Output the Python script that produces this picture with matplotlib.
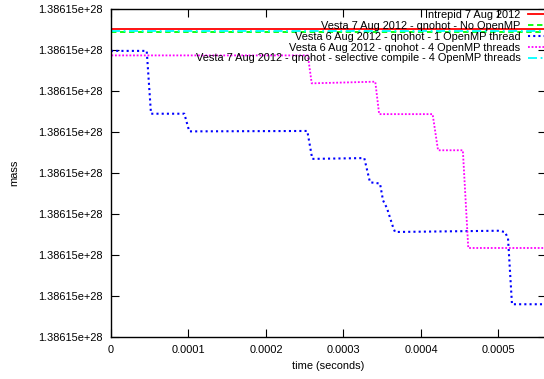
import numpy as np
import matplotlib
matplotlib.use("Agg")
import matplotlib.pyplot as plt
from matplotlib.ticker import FixedLocator, FuncFormatter

plt.rcParams['font.family'] = ['Liberation Sans', 'DejaVu Sans']
plt.rcParams['font.size'] = 7.9

# mass shown as offsets above 1.38615e+28 (one unit = one tick step)
mass_base_label = "1.38615e+28"

# flat runs
intrepid_t = [0.0, 5.62e-4]
intrepid_m = [7.51, 7.51]
vesta7_noomp_t = [0.0, 5.62e-4]
vesta7_noomp_m = [7.43, 7.43]
vesta7_sel_t = [0.0, 5.62e-4]
vesta7_sel_m = [7.46, 7.46]

# Vesta 6 Aug - 1 OpenMP thread
vesta6_1_t = np.array([0.0, 0.461, 0.516, 0.946, 1.010, 2.533, 2.597, 3.268, 3.342,
                       3.471, 3.510, 3.561, 3.639, 3.665, 4.994, 5.084, 5.123, 5.174, 5.62]) * 1e-4
vesta6_1_m = [6.97, 6.97, 5.44, 5.44, 5.01, 5.02, 4.34, 4.36, 3.77,
              3.74, 3.33, 3.14, 2.68, 2.56, 2.59, 2.56, 2.40, 0.80, 0.80]

# Vesta 6 Aug - 4 OpenMP threads
vesta6_4_t = np.array([0.0, 0.013, 2.54, 2.59, 3.41, 3.46, 4.15, 4.22, 4.54, 4.61, 5.62]) * 1e-4
vesta6_4_m = [6.96, 6.86, 6.86, 6.18, 6.22, 5.43, 5.43, 4.55, 4.55, 2.17, 2.17]

labels = ["Intrepid 7 Aug 2012",
          "Vesta 7 Aug 2012 - qnohot - No OpenMP",
          "Vesta 6 Aug 2012 - qnohot - 1 OpenMP thread",
          "Vesta 6 Aug 2012 - qnohot - 4 OpenMP threads",
          "Vesta 7 Aug 2012 - qnohot - selective compile - 4 OpenMP threads"]

x_ticks = [0, 1e-4, 2e-4, 3e-4, 4e-4, 5e-4]
x_tick_labels = ["0", "0.0001", "0.0002", "0.0003", "0.0004", "0.0005"]

W, H = 544, 379
fig = plt.figure(figsize=(W / 100, H / 100), dpi=100)
ax = fig.add_axes([111 / W, 1 - 337.1 / H, (546 - 111) / W, (337.1 - 8.6) / H])

ax.plot(intrepid_t, intrepid_m, color='#ff0000', lw=1.3, label=labels[0])
ax.plot(vesta7_noomp_t, vesta7_noomp_m, color='#00ff00', lw=1.3,
        linestyle=(0, (3, 2)), label=labels[1])
ax.plot(vesta6_1_t, vesta6_1_m, color='#0000ff', lw=1.5,
        linestyle=(0, (1, 1.5)), label=labels[2])
ax.plot(vesta6_4_t, vesta6_4_m, color='#ff00ff', lw=1.3,
        linestyle=(0, (1, 1)), label=labels[3])
ax.plot(vesta7_sel_t, vesta7_sel_m, color='#00ffff', lw=1.3,
        linestyle=(0, (5, 2, 1, 2)), label=labels[4])

ax.set_xlim(0, 5.613e-4)
ax.set_ylim(0, 8)
ax.xaxis.set_major_locator(FixedLocator(x_ticks))
ax.set_xticklabels(x_tick_labels)
ax.yaxis.set_major_locator(FixedLocator(np.arange(0, 9)))
ax.yaxis.set_major_formatter(FuncFormatter(lambda v, p: mass_base_label))
ax.tick_params(direction='in', length=6, width=0.8, top=True, right=True,
               pad=6, labelsize=7.9, colors='black')
for s in ax.spines.values():
    s.set_linewidth(1.0)

fig.text(14 / W, 1 - 173 / H, "mass", rotation=90, ha='center', va='center', fontsize=7.9)
fig.text(328 / W, 1 - 366 / H, "time (seconds)", ha='center', va='center', fontsize=7.9)

ax.legend(loc='upper right', bbox_to_anchor=(555 / W, 1 - 10.3 / H),
          bbox_transform=fig.transFigure, frameon=False, markerfirst=False,
          handlelength=2.5, handletextpad=0.65, labelspacing=0.07,
          borderpad=0, borderaxespad=0, fontsize=7.9)

fig.savefig("out.png", dpi=100)
